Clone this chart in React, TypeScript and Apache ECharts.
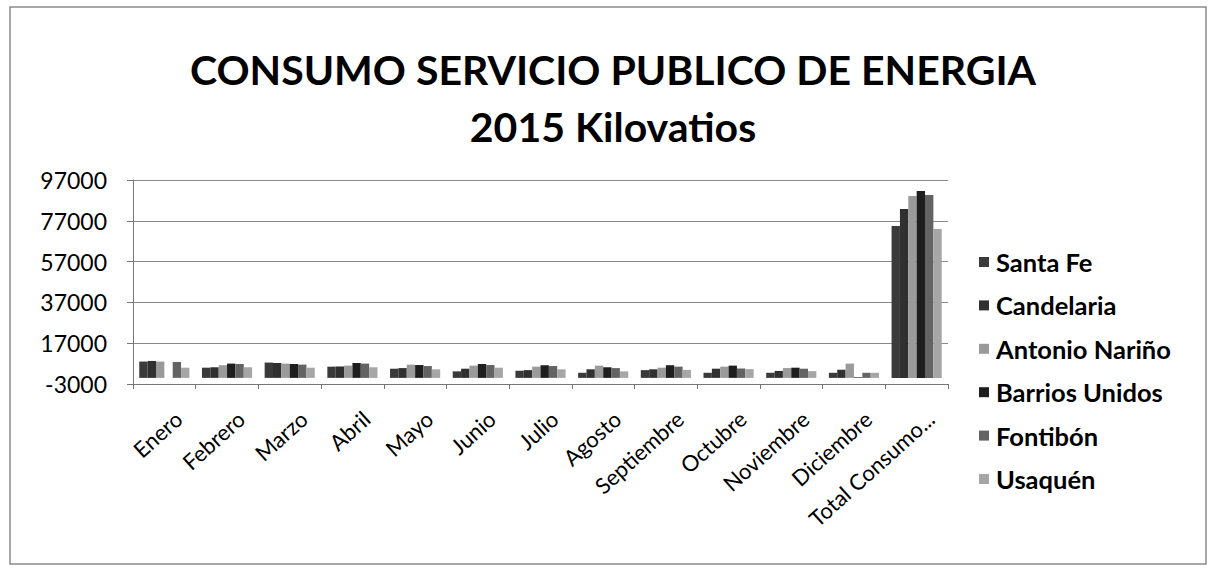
import React, { useEffect, useRef } from "react";
import * as echarts from "echarts";

const categories = [
  "Enero", "Febrero", "Marzo", "Abril", "Mayo", "Junio", "Julio",
  "Agosto", "Septiembre", "Octubre", "Noviembre", "Diciembre", "Total Consumo Anual",
];

const seriesNames = ["Santa Fe", "Candelaria", "Antonio Nariño", "Barrios Unidos", "Fontibón", "Usaquén"];

const santaFe = [8000, 5000, 7500, 5500, 4500, 3200, 3500, 2500, 3800, 2500, 2500, 2500, 74500];
const candelaria = [8300, 5200, 7300, 5600, 4800, 4500, 3800, 4200, 4200, 4500, 3400, 4000, 82800];
const antonioNarino = [8000, 6200, 7000, 6000, 6500, 6000, 5500, 6000, 5000, 5500, 4800, 7000, 89200];
const barriosUnidos = [0, 7000, 6800, 7300, 6300, 6800, 6200, 5200, 6200, 6000, 5000, 300, 91600];
const fontibon = [7800, 6800, 6500, 7000, 5800, 6300, 5800, 4800, 5500, 4600, 4500, 2500, 89700];
const usaquen = [5000, 5200, 5000, 5200, 4200, 5000, 4200, 3200, 3900, 4300, 3300, 2500, 73000];

const seriesData = [santaFe, candelaria, antonioNarino, barriosUnidos, fontibon, usaquen];
const seriesColors = ["#3a3a3a", "#303030", "#9a9a9a", "#1e1e1e", "#636363", "#a6a6a6"];

const yMin = -3000;
const yMax = 97000;
const yInterval = 20000;

const FONT = "Lato, 'Open Sans', 'DejaVu Sans', sans-serif";

export default function App() {
  const ref = useRef<HTMLDivElement>(null);

  useEffect(() => {
    if (!ref.current) return;
    const chart = echarts.init(ref.current, undefined, { renderer: "svg" });
    chart.setOption({
      animation: false,
      backgroundColor: "#ffffff",
      title: {
        text: "CONSUMO SERVICIO PUBLICO DE ENERGIA\n2015 Kilovatios",
        left: 608,
        top: 36,
        textAlign: "center",
        textStyle: {
          fontFamily: FONT,
          fontSize: 41,
          fontWeight: "bold",
          color: "#000",
          lineHeight: 57,
        },
      },
      graphic: [
        {
          type: "rect",
          shape: { x: 10, y: 7, width: 1196, height: 557 },
          style: { fill: "none", stroke: "#8a8a8a", lineWidth: 1.5 },
          silent: true,
        },
      ],
      legend: {
        orient: "vertical",
        left: 974,
        top: 244,
        itemWidth: 10,
        itemHeight: 10,
        itemGap: 17.4,
        icon: "rect",
        textStyle: { fontFamily: FONT, fontSize: 25.5, fontWeight: "bold", color: "#000", padding: [0, 0, 0, 2] },
        data: seriesNames,
      },
      grid: { left: 133, right: 262, top: 180, bottom: 190, containLabel: false },
      xAxis: {
        type: "category",
        data: categories,
        axisLine: { onZero: false, lineStyle: { color: "#777", width: 1 } },
        axisTick: { show: true, alignWithLabel: false, length: 5, lineStyle: { color: "#777" } },
        axisLabel: {
          interval: 0,
          rotate: 42,
          margin: 44,
          padding: [0, -19, 0, 0],
          fontFamily: FONT,
          fontSize: 22,
          color: "#000",
          formatter: (v: string) => (v.length > 14 ? v.slice(0, 13) + "..." : v),
        },
      },
      yAxis: {
        type: "value",
        min: yMin,
        max: yMax,
        interval: yInterval,
        axisLine: { show: true, lineStyle: { color: "#777", width: 1 } },
        axisTick: { show: true, length: 6, lineStyle: { color: "#777" } },
        splitLine: { show: true, lineStyle: { color: "#8a8a8a", width: 1 } },
        axisLabel: {
          fontFamily: FONT,
          fontSize: 23,
          color: "#000",
          margin: 26,
          formatter: (v: number) => String(v),
        },
      },
      series: seriesNames.map((name, i) => ({
        name,
        type: "bar",
        data: seriesData[i],
        barGap: "0%",
        barCategoryGap: "20%",
        itemStyle: { color: seriesColors[i] },
      })),
    });
    return () => chart.dispose();
  }, []);

  return (
    <div
      ref={ref}
      style={{ position: "fixed", left: 0, top: 0, width: 1210, height: 574 }}
    />
  );
}
